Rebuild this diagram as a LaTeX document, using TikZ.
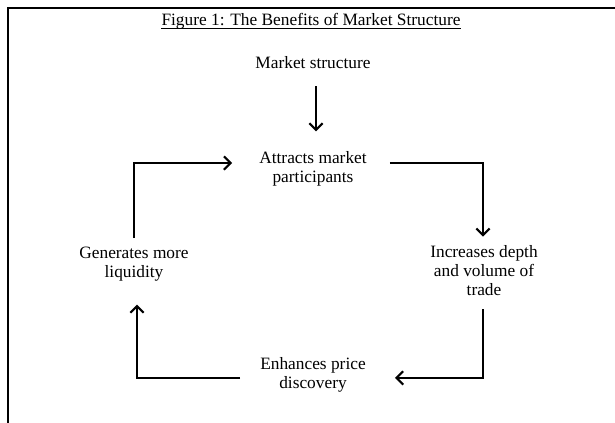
\documentclass[tikz,border=0pt]{standalone}
\usepackage{fontspec}
\setmainfont{Liberation Serif}
\usetikzlibrary{arrows.meta}
\begin{document}
\begin{tikzpicture}[x=0.75pt,y=-0.75pt,
  txt/.style={inner sep=0pt,align=center,font=\fontsize{13}{14.25}\selectfont},
  flow/.style={line width=1.1pt,-{Straight Barb[length=5pt,width=10pt,line width=1.6pt]}}]
  \useasboundingbox (0,0) rectangle (615,423);
  \draw[line width=1.1pt] (615,8) -- (8,8) -- (8,423);
  \node[txt] (title) at (311,21) {Figure 1: The Benefits of Market Structure};
  \draw[line width=1pt] ([yshift=-2.5pt]title.base west) -- ([yshift=-2.5pt]title.base east);
  \node[txt] (market) at (313,63) {Market structure};
  \node[txt] (attract) at (313,168.5) {Attracts market\\participants};
  \node[txt] (depth) at (484,270.5) {Increases depth\\and volume of\\trade};
  \node[txt] (price) at (313,374.5) {Enhances price\\discovery};
  \node[txt] (liquid) at (134,264.5) {Generates more\\liquidity};
  % the cycle
  \draw[flow,shorten <=12.75pt,shorten >=14.6pt] ([xshift=2.25pt]market.south) -- ([xshift=2.25pt]attract.north);
  \draw[flow,shorten >=6.4pt] ([xshift=17.25pt,yshift=4.1pt]attract.east) -| ([xshift=-0.75pt]depth.north);
  \draw[flow,shorten <=10pt] ([xshift=-0.75pt]depth.south) |- ([xshift=21.75pt,yshift=-2.6pt]price.east);
  \draw[flow,shorten >=17pt] ([xshift=-15pt,yshift=-2.6pt]price.west) -| ([xshift=2.25pt]liquid.south);
  \draw[flow,shorten <=6.75pt] (liquid.north) |- ([xshift=-20.25pt,yshift=4.1pt]attract.west);
\end{tikzpicture}
\end{document}
